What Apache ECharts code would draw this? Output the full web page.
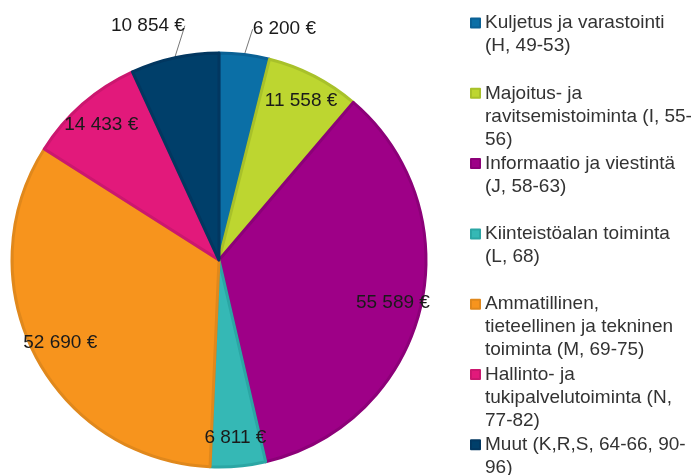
<!DOCTYPE html>
<html>
<head>
<meta charset="utf-8">
<script src="https://cdn.jsdelivr.net/npm/echarts@6/dist/echarts.min.js"></script>
<style>
  html, body { margin: 0; padding: 0; background: #fff; }
  #chart { width: 697px; height: 475px; }
</style>
</head>
<body>
<div id="chart"></div>
<script>
// toimialat, myötäpäivään klo 12:sta alkaen
const categories = [
  'Kuljetus ja varastointi (H, 49-53)',
  'Majoitus- ja ravitsemistoiminta (I, 55-56)',
  'Informaatio ja viestintä (J, 58-63)',
  'Kiinteistöalan toiminta (L, 68)',
  'Ammatillinen, tieteellinen ja tekninen toiminta (M, 69-75)',
  'Hallinto- ja tukipalvelutoiminta (N, 77-82)',
  'Muut (K,R,S, 64-66, 90-96)'
];
// legendan rivitys kuten alkuperäisessä
const legendLines = [
  ['Kuljetus ja varastointi', '(H, 49-53)'],
  ['Majoitus- ja', 'ravitsemistoiminta (I, 55-', '56)'],
  ['Informaatio ja viestintä', '(J, 58-63)'],
  ['Kiinteistöalan toiminta', '(L, 68)'],
  ['Ammatillinen,', 'tieteellinen ja tekninen', 'toiminta (M, 69-75)'],
  ['Hallinto- ja', 'tukipalvelutoiminta (N,', '77-82)'],
  ['Muut (K,R,S, 64-66, 90-', '96)']
];
const values = [6200, 11558, 55589, 6811, 52690, 14433, 10854];

const colors = ['#0b6fa6', '#bdd630', '#9e0087', '#35b8b5', '#f7941d', '#e2197b', '#003f6a'];
const borders = ['#0a6195', '#a8c12a', '#8c0078', '#2ba6a4', '#e0881c', '#cb176f', '#023760'];
const outsideLabel = [true, false, false, false, false, false, true];

const fmt = v => String(v).replace(/\B(?=(\d{3})+(?!\d))/g, '\u00a0') + '\u00a0€';

const chart = echarts.init(document.getElementById('chart'));

const LH = 23;
// teksti keskitetään merkkiin, joten eteen tyhjiä rivejä -> 1. rivi merkin kohdalle
const legends = categories.map((name, i) => {
  const n = legendLines[i].length;
  const blank = new Array(n - 1).fill('\u00a0');
  return {
    data: [name],
    orient: 'vertical',
    left: 470,
    top: 23 + i * 70.3 - (2 * n - 1) * LH / 2,
    padding: 0,
    icon: 'rect',
    itemWidth: 9,
    itemHeight: 9,
    selectedMode: false,
    formatter: () => blank.concat(legendLines[i]).join('\n'),
    textStyle: { fontSize: 19, lineHeight: LH, color: '#333' }
  };
});

chart.setOption({
  animation: false,
  color: colors,
  textStyle: { fontFamily: 'Liberation Sans, Arial, sans-serif' },
  legend: legends,
  series: [
    {
      type: 'pie',
      center: [219, 260],
      radius: [0, 207],
      startAngle: 90,
      clockwise: true,
      silent: true,
      label: { show: false },
      labelLine: { show: false },
      data: categories.map((name, i) => ({
        name: name,
        value: values[i],
        itemStyle: { color: colors[i], borderColor: borders[i], borderWidth: 3 }
      }))
    },
    {
      // läpinäkyvä rengas arvotekstejä varten
      type: 'pie',
      center: [219, 260],
      radius: [145, 207],
      startAngle: 90,
      clockwise: true,
      silent: true,
      itemStyle: { color: 'rgba(0,0,0,0)' },
      label: {
        show: true,
        position: 'inside',
        fontSize: 19,
        color: '#1a1a1a',
        formatter: p => fmt(p.value)
      },
      labelLine: { show: true, length: 18, length2: 0, lineStyle: { color: '#777', width: 1 } },
      labelLayout: p => {
        if (!outsideLabel[p.dataIndex] || !p.labelLinePoints) return {};
        const end = p.labelLinePoints[p.labelLinePoints.length - 1];
        const left = end[0] < 219;
        return {
          x: left ? end[0] + 14 : end[0] + 6,
          y: left ? end[1] - 5 : end[1] + 2,
          align: left ? 'right' : 'left',
          verticalAlign: 'bottom'
        };
      },
      data: categories.map((name, i) => ({
        name: name,
        value: values[i],
        label: outsideLabel[i] ? { position: 'outside' } : undefined,
        labelLine: { show: outsideLabel[i] }
      }))
    }
  ]
});
</script>
</body>
</html>
